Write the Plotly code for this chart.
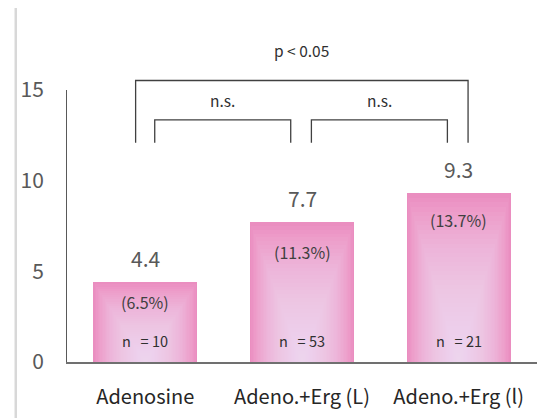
import plotly.graph_objects as go

# ---- data ----
categories = ["Adenosine", "Adeno.+Erg (L)", "Adeno.+Erg (l)"]
values = [4.4, 7.7, 9.3]
percent_labels = ["(6.5%)", "(11.3%)", "(13.7%)"]
n_counts = [10, 53, 21]
y_ticks = [0, 5, 10, 15]
comparisons = [(0, 2, "p < 0.05"), (0, 1, "n.s."), (1, 2, "n.s.")]

# ---- style ----
FONT = "Noto Sans CJK JP"
BAR_W = 0.663
BASE_COLOR = "#ea8ec0"
LIGHT = "rgba(250,238,247,0.05)"
N_LAYERS = 36
pct_shift = [-20, -30, -27]

fig = go.Figure()
fig.add_trace(go.Bar(x=categories, y=values, width=BAR_W,
                     marker=dict(color=BASE_COLOR, line=dict(width=0)),
                     hoverinfo="skip", showlegend=False))
# nested translucent layers give a gradient lightening towards bottom-center
for k in range(1, N_LAYERS + 1):
    f = 1 - k / (N_LAYERS + 1)
    fig.add_trace(go.Bar(x=categories, y=[v * f for v in values], width=BAR_W * f,
                         marker=dict(color=LIGHT, line=dict(width=0)),
                         hoverinfo="skip", showlegend=False))

annotations = []
for i, (c, v) in enumerate(zip(categories, values)):
    annotations.append(dict(x=c, y=v, text=f"{v}", showarrow=False, yshift=24,
                            yanchor="middle",
                            font=dict(family=FONT, size=21, color="#595959")))
    annotations.append(dict(x=c, y=v, text=percent_labels[i], showarrow=False,
                            yshift=pct_shift[i], yanchor="middle",
                            font=dict(family=FONT, size=16, color="#404040")))
    annotations.append(dict(x=c, y=0, text=f"n\u00a0\u00a0\u00a0= {n_counts[i]}",
                            showarrow=False, yshift=22, yanchor="middle",
                            font=dict(family=FONT, size=14.5, color="#303030")))

shapes = []
levels = {"big": (1.035, 1.147), "small": (0.890, 0.963)}
leg_bottom = 0.806
for a, b, label in comparisons:
    if b - a == 2:
        x0, x1 = a - 0.062, b + 0.06
        top, ty = levels["big"]
    else:
        x0, x1 = a + 0.06, b - 0.072
        top, ty = levels["small"]
    shapes.append(dict(type="path", xref="x", yref="paper",
                       path=f"M {x0},{leg_bottom} L {x0},{top} L {x1},{top} L {x1},{leg_bottom}",
                       line=dict(color="#404040", width=1.3)))
    annotations.append(dict(x=(x0 + x1) / 2, y=ty, xref="x", yref="paper",
                            text=label, showarrow=False, yanchor="middle",
                            font=dict(family=FONT, size=15.5, color="#303030")))

# outer frame (top, left, right edges)
shapes += [
    dict(type="line", xref="paper", yref="paper", x0=-0.109, x1=1.032, y0=1.307, y1=1.307,
         line=dict(color="#d0d0d0", width=2)),
    dict(type="line", xref="paper", yref="paper", x0=-0.109, x1=-0.109, y0=1.307, y1=-0.3,
         line=dict(color="#d8d8d8", width=2.5)),
    dict(type="line", xref="paper", yref="paper", x0=1.032, x1=1.032, y0=1.307, y1=-0.3,
         line=dict(color="#ececec", width=3)),
]

fig.update_layout(
    width=556, height=418,
    margin=dict(l=54, r=27, t=82, b=64),
    paper_bgcolor="white", plot_bgcolor="white",
    barmode="overlay", bargap=0,
    showlegend=False,
    annotations=annotations, shapes=shapes,
    font=dict(family=FONT),
    xaxis=dict(range=[-0.5, 2.5], showline=True, linecolor="#707070", linewidth=2,
               ticks="", showgrid=False, zeroline=False, ticklabelstandoff=16,
               tickfont=dict(family=FONT, size=20, color="#262626")),
    yaxis=dict(range=[0, 15], tickvals=y_ticks, showline=True, linecolor="#595959",
               linewidth=1, ticks="", showgrid=False, zeroline=False,
               ticklabelstandoff=18,
               tickfont=dict(family=FONT, size=21, color="#595959")),
)

fig.write_html("out.html")
